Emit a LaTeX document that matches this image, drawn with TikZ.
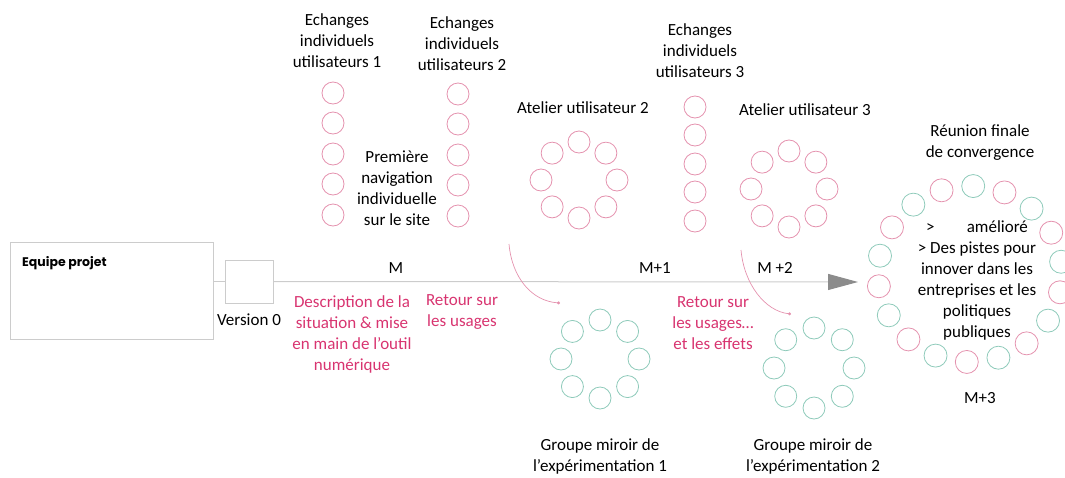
\documentclass[tikz,border=0pt]{standalone}
\usepackage{fontspec}
\setmainfont{Carlito}
\newfontfamily\equipefont{Poppins}
\usetikzlibrary{arrows.meta}

\definecolor{rosecercle}{RGB}{228,146,174}
\definecolor{vertcercle}{RGB}{142,202,186}
\definecolor{rougetexte}{RGB}{216,52,112}
\definecolor{grisaxe}{RGB}{204,204,204}

\tikzset{
    tl box/.style={
      draw=grisaxe,
      line width=0.8pt
    },
    tl axe/.style={
      draw=grisaxe,
      line width=1pt
    },
    cercle rose/.style={
      draw=rosecercle,
      line width=0.8pt
    },
    cercle vert/.style={
      draw=vertcercle,
      line width=0.8pt
    },
    tl texte/.style={
      font=\fontsize{17}{21}\selectfont,
      align=center,
      inner sep=0pt
    },
    tl rouge/.style={
      tl texte,
      text=rougetexte
    },
    tl retour/.style={
      draw=rosecercle,
      line width=0.7pt,
      -{Circle[length=3pt]}
    },
    equipe label/.style={
      font=\equipefont\bfseries\fontsize{12.5}{15}\selectfont,
      inner sep=0pt
    }
  }

\begin{document}
\begin{tikzpicture}[x=1pt,y=-1pt]
      \useasboundingbox (0,0) rectangle (1065,477);

      % Cercles en colonnes
      \foreach \y in {93,123,154,184,215} {
        \draw[cercle rose] (333,\y) circle[radius=11pt];
        \draw[cercle rose] (458,\y+1) circle[radius=11pt];
      }
      \foreach \y in {107,135,164,192,221}
        \draw[cercle rose] (695,\y) circle[radius=11pt];

      % Cercles des ateliers et des groupes miroirs
      \foreach \cx/\cy/\r/\sty in {579/180/38/cercle rose, 789/189/38/cercle rose,
                                   600/359/39/cercle vert, 814/368/40/cercle vert}
        \foreach \a in {0,45,...,315}
          \draw[style=\sty] ({\cx+\r*cos(\a)},{\cy-\r*sin(\a)}) circle[radius=11pt];

      % Réunion finale
      \foreach \a in {88,48,...,-232}
        \draw[cercle vert] ({970+92*cos(\a)},{274-88*sin(\a)}) circle[radius=11.5pt];
      \foreach \a in {68,28,...,-252}
        \draw[cercle rose] ({970+92*cos(\a)},{274-88*sin(\a)}) circle[radius=11.5pt];

      % Axe
      \node[tl box, minimum width=203pt, minimum height=97pt] (equipe) at (111.5,290.5) {};
      \node[tl box, minimum width=48pt, minimum height=43pt] (version) at (249,281.5) {};
      \coordinate (fin) at (858,282);
      \draw[tl axe] (equipe.east |- version.west) -- (version.west);
      \draw[tl axe, -{Triangle[length=30pt,width=16pt,color=black!45]}] (version.east) -- (fin);

      % Retours
      \coordinate (depart1) at (509,244);
      \coordinate (arrivee1) at (560,303);
      \coordinate (depart2) at (741,250);
      \coordinate (arrivee2) at (791,314);
      \draw[tl retour] (depart1) .. controls (512,278) and (532,301) .. (arrivee1);
      \draw[tl retour] (depart2) .. controls (744,284) and (765,311) .. (arrivee2);

      % Libellés
      \node[equipe label, anchor=west] (titre) at (22,263) {Equipe projet};
      \node[tl texte] (version0) at (249,320) {Version 0};
      \node[tl texte] (ech1) at (337,41) {Echanges\\individuels\\utilisateurs 1};
      \node[tl texte] (ech2) at (462,44) {Echanges\\individuels\\utilisateurs 2};
      \node[tl texte] (ech3) at (700,51) {Echanges\\individuels\\utilisateurs 3};
      \node[tl texte] (premiere) at (397,188) {Première\\navigation\\individuelle\\sur le site};
      \node[tl texte] (atelier2) at (583,108) {Atelier utilisateur 2};
      \node[tl texte] (atelier3) at (805,110) {Atelier utilisateur 3};
      \node[tl texte] (reunion) at (980,143) {Réunion finale\\de convergence};
      \node[tl texte] (resultat) at (977,280) {>\hspace{1.9em}amélioré\\> Des pistes pour\\innover dans les\\entreprises et les\\politiques\\publiques};
      \node[tl texte] (m0) at (396,268) {M};
      \node[tl texte] (m1) at (655,268) {M+1};
      \node[tl texte] (m2) at (775,268) {M +2};
      \node[tl texte] (m3) at (980,398) {M+3};
      \node[tl rouge] (description) at (352,334) {Description de la\\situation \& mise\\en main de l’outil\\numérique};
      \node[tl rouge] (retour1) at (462,312) {Retour sur\\les usages};
      \node[tl rouge] (retour2) at (713,323) {Retour sur\\les usages…\\et les effets};
      \node[tl texte] (groupe1) at (600,456) {Groupe miroir de\\l’expérimentation 1};
      \node[tl texte] (groupe2) at (813,456) {Groupe miroir de\\l’expérimentation 2};
\end{tikzpicture}
\end{document}
